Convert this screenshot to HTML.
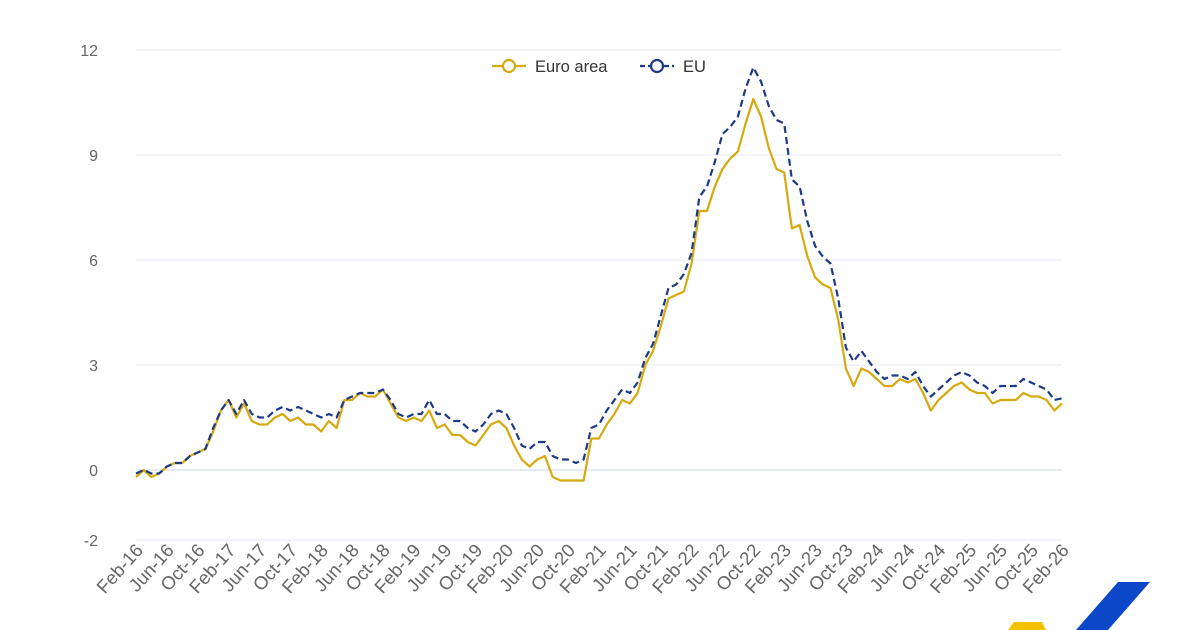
<!DOCTYPE html>
<html><head><meta charset="utf-8"><style>
html,body{margin:0;padding:0;background:#fff;width:1200px;height:630px;overflow:hidden}
svg text{font-family:"Liberation Sans",sans-serif}
</style></head><body>
<svg id="c" width="1200" height="630" xmlns="http://www.w3.org/2000/svg"></svg>
<script>
const ea=[-0.2,0.0,-0.2,-0.1,0.1,0.2,0.2,0.4,0.5,0.6,1.1,
1.7,2.0,1.5,1.9,1.4,1.3,1.3,1.5,1.6,1.4,1.5,1.3,
1.3,1.1,1.4,1.2,2.0,2.0,2.2,2.1,2.1,2.3,1.9,1.5,
1.4,1.5,1.4,1.7,1.2,1.3,1.0,1.0,0.8,0.7,1.0,1.3,
1.4,1.2,0.7,0.3,0.1,0.3,0.4,-0.2,-0.3,-0.3,-0.3,-0.3,
0.9,0.9,1.3,1.6,2.0,1.9,2.2,3.0,3.4,4.1,4.9,5.0,
5.1,5.9,7.4,7.4,8.1,8.6,8.9,9.1,9.9,10.6,10.1,9.2,
8.6,8.5,6.9,7.0,6.1,5.5,5.3,5.2,4.3,2.9,2.4,2.9,
2.8,2.6,2.4,2.4,2.6,2.5,2.6,2.2,1.7,2.0,2.2,2.4,
2.5,2.3,2.2,2.2,1.9,2.0,2.0,2.0,2.2,2.1,2.1,2.0,
1.7,1.9];
const eu=[-0.1,0.0,-0.1,-0.1,0.1,0.2,0.2,0.4,0.5,0.6,1.2,
1.7,2.0,1.6,2.0,1.6,1.5,1.5,1.7,1.8,1.7,1.8,1.7,
1.6,1.5,1.6,1.5,2.0,2.1,2.2,2.2,2.2,2.3,2.0,1.6,
1.5,1.6,1.6,2.0,1.6,1.6,1.4,1.4,1.2,1.1,1.3,1.6,
1.7,1.6,1.2,0.7,0.6,0.8,0.8,0.4,0.3,0.3,0.2,0.3,
1.2,1.3,1.7,2.0,2.3,2.2,2.5,3.2,3.6,4.4,5.2,5.3,
5.6,6.2,7.8,8.1,8.8,9.6,9.8,10.1,10.9,11.5,11.1,10.4,
10.0,9.9,8.3,8.1,7.1,6.4,6.1,5.9,4.9,3.5,3.1,3.4,
3.1,2.8,2.6,2.7,2.7,2.6,2.8,2.4,2.1,2.3,2.5,2.7,
2.8,2.7,2.5,2.4,2.2,2.4,2.4,2.4,2.6,2.5,2.4,2.3,
2.0,2.05];
const X=i=>136+i*(926/120), Y=v=>470-v*35;
let s='';
[12,9,6,3,0,-2].forEach(v=>{const y=Y(v);
 s+=`<line x1="136" x2="1062" y1="${y}" y2="${y}" stroke="${v==0?'#ccd6eb':'#e6e9f5'}" stroke-width="1"/>`;
 s+=`<text x="98" y="${y+6}" text-anchor="end" font-size="16" fill="#666">${v}</text>`;});
const m=['Feb','Jun','Oct'];
for(let k=0;k<=30;k++){const i=k*4;const yr=16+Math.floor((1+i)/12);const mo=m[k%3];
 const x=X(i);s+=`<text transform="translate(${x+8},${551}) rotate(-48)" text-anchor="end" font-size="18.5" fill="#666">${mo}-${yr}</text>`;}
const p=a=>a.map((v,i)=>X(i).toFixed(1)+','+Y(v).toFixed(1)).join(' ');
s+=`<polyline points="${p(ea)}" fill="none" stroke="#d6a90f" stroke-width="2.2" stroke-linejoin="round"/>`;
s+=`<polyline points="${p(eu)}" fill="none" stroke="#1d3a87" stroke-width="2.2" stroke-dasharray="7,4" stroke-linejoin="round"/>`;
s+=`<line x1="492" x2="526" y1="66" y2="66" stroke="#d6a90f" stroke-width="2.2"/><circle cx="509" cy="66" r="6" fill="#fff" stroke="#d6a90f" stroke-width="2.2"/>`;
s+=`<text x="535" y="72" font-size="16.5" fill="#333">Euro area</text>`;
s+=`<line x1="640" x2="674" y1="66" y2="66" stroke="#1d3a87" stroke-width="2.2" stroke-dasharray="5,3"/><circle cx="657" cy="66" r="6" fill="#fff" stroke="#1d3a87" stroke-width="2.2"/>`;
s+=`<text x="683" y="72" font-size="16.5" fill="#333">EU</text>`;
s+=`<polygon points="1118,582 1150,582 1108,630 1076,630" fill="#0d47c9"/>`;
s+=`<polygon points="1008,630 1014,622 1042,622 1046,630" fill="#f2c200"/>`;
document.getElementById('c').innerHTML=s;
</script>
</body></html>
